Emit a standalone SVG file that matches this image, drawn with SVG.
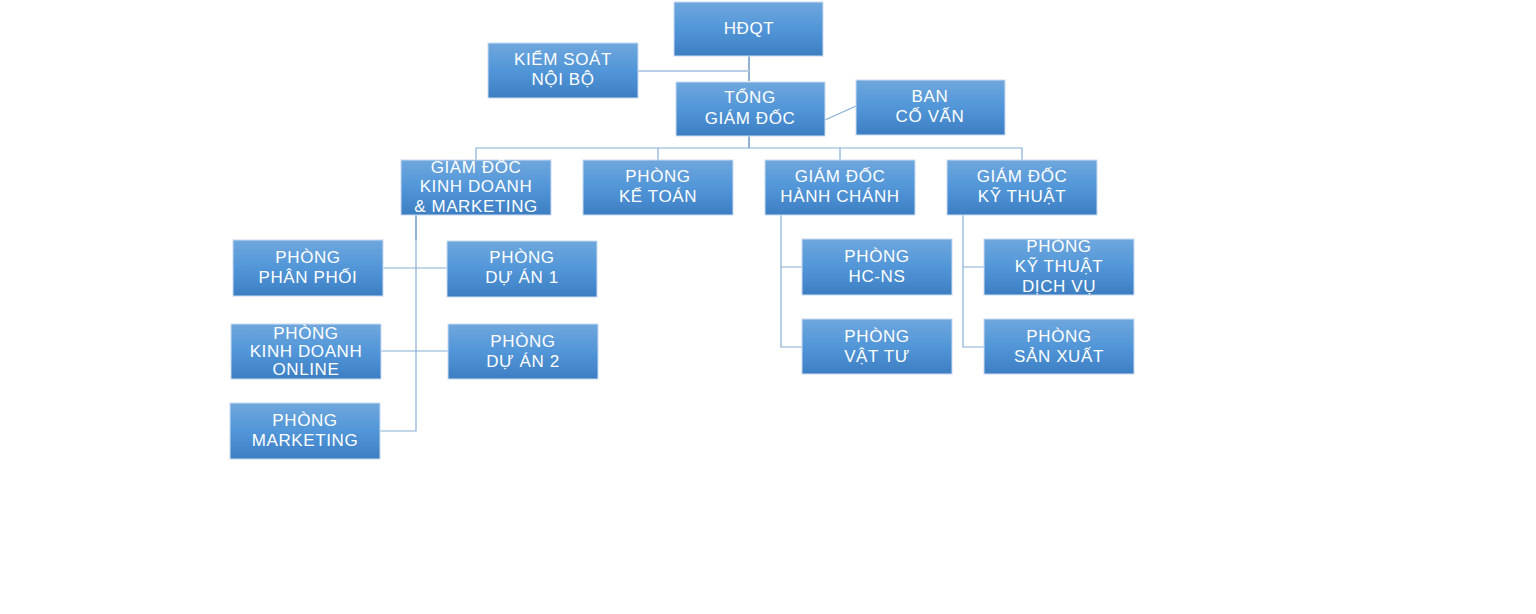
<svg xmlns="http://www.w3.org/2000/svg" width="1536" height="614" viewBox="0 0 1536 614">
<defs>
<linearGradient id="g" x1="0" y1="0" x2="0" y2="1">
<stop offset="0" stop-color="#6fa7dd"/>
<stop offset="0.5" stop-color="#5196d8"/>
<stop offset="1" stop-color="#3d7ec2"/>
</linearGradient>
<style>
.b{fill:url(#g);stroke:#c9dcf0;stroke-width:1}
.t{fill:#fff;font-family:"Liberation Sans",Arial,sans-serif;font-size:17px;letter-spacing:0.6px;text-anchor:middle}
.c{fill:none;stroke:#86aed6;stroke-width:1.2}
.d{fill:none;stroke:#4a7fb5;stroke-width:1.2}
</style>
</defs>
<rect width="1536" height="614" fill="#fff"/>
<g id="connectors">
<path class="d" d="M749 56V81"/>
<path d="M638 71H749" fill="none" stroke="#b9cde5" stroke-width="2"/>
<path class="c" d="M825 120L856 106"/>
<path class="d" d="M749 136V148"/>
<path class="c" d="M476 160V148H1022V160M658 148V160M840 148V160"/>
<path class="d" d="M416 215V240"/>
<path class="c" d="M416 240V431H380M383 268H447M381 351H448"/>
<path class="c" d="M781 215V347H802M781 267H802"/>
<path class="c" d="M963 215V347H984M963 267H984"/>
</g>
<g id="hdqt"><rect class="b" x="674" y="2" width="149" height="54"/><text class="t" x="749" y="34">HĐQT</text></g>
<g id="kiemsoat"><rect class="b" x="488" y="43" width="150" height="55"/><text class="t" x="563" y="65">KIỂM SOÁT</text><text class="t" x="563" y="85">NỘI BỘ</text></g>
<g id="tgd"><rect class="b" x="676" y="82" width="149" height="54"/><text class="t" x="750" y="103">TỔNG</text><text class="t" x="750" y="124">GIÁM ĐỐC</text></g>
<g id="bancovan"><rect class="b" x="856" y="80" width="149" height="55"/><text class="t" x="930" y="102">BAN</text><text class="t" x="930" y="122">CỐ VẤN</text></g>
<g id="gdkd"><rect class="b" x="401" y="160" width="150" height="55"/><text class="t" x="476" y="173">GIÁM ĐỐC</text><text class="t" x="476" y="192">KINH DOANH</text><text class="t" x="476" y="212">&amp; MARKETING</text></g>
<g id="ketoan"><rect class="b" x="583" y="160" width="150" height="55"/><text class="t" x="658" y="182">PHÒNG</text><text class="t" x="658" y="202">KẾ TOÁN</text></g>
<g id="gdhc"><rect class="b" x="765" y="160" width="150" height="55"/><text class="t" x="840" y="182">GIÁM ĐỐC</text><text class="t" x="840" y="202">HÀNH CHÁNH</text></g>
<g id="gdkt"><rect class="b" x="947" y="160" width="150" height="55"/><text class="t" x="1022" y="182">GIÁM ĐỐC</text><text class="t" x="1022" y="202">KỸ THUẬT</text></g>
<g id="phanphoi"><rect class="b" x="233" y="240" width="150" height="56"/><text class="t" x="308" y="263">PHÒNG</text><text class="t" x="308" y="283">PHÂN PHỐI</text></g>
<g id="duan1"><rect class="b" x="447" y="241" width="150" height="56"/><text class="t" x="522" y="263">PHÒNG</text><text class="t" x="522" y="283">DỰ ÁN 1</text></g>
<g id="kdonline"><rect class="b" x="231" y="324" width="150" height="55"/><text class="t" x="306" y="339">PHÒNG</text><text class="t" x="306" y="357">KINH DOANH</text><text class="t" x="306" y="375">ONLINE</text></g>
<g id="duan2"><rect class="b" x="448" y="324" width="150" height="55"/><text class="t" x="523" y="347">PHÒNG</text><text class="t" x="523" y="367">DỰ ÁN 2</text></g>
<g id="marketing"><rect class="b" x="230" y="403" width="150" height="56"/><text class="t" x="305" y="426">PHÒNG</text><text class="t" x="305" y="446">MARKETING</text></g>
<g id="hcns"><rect class="b" x="802" y="239" width="150" height="56"/><text class="t" x="877" y="262">PHÒNG</text><text class="t" x="877" y="282">HC-NS</text></g>
<g id="vattu"><rect class="b" x="802" y="319" width="150" height="55"/><text class="t" x="877" y="342">PHÒNG</text><text class="t" x="877" y="362">VẬT TƯ</text></g>
<g id="ktdv"><rect class="b" x="984" y="239" width="150" height="56"/><text class="t" x="1059" y="252">PHÒNG</text><text class="t" x="1059" y="272">KỸ THUẬT</text><text class="t" x="1059" y="292">DỊCH VỤ</text></g>
<g id="sanxuat"><rect class="b" x="984" y="319" width="150" height="55"/><text class="t" x="1059" y="342">PHÒNG</text><text class="t" x="1059" y="362">SẢN XUẤT</text></g>
</svg>
